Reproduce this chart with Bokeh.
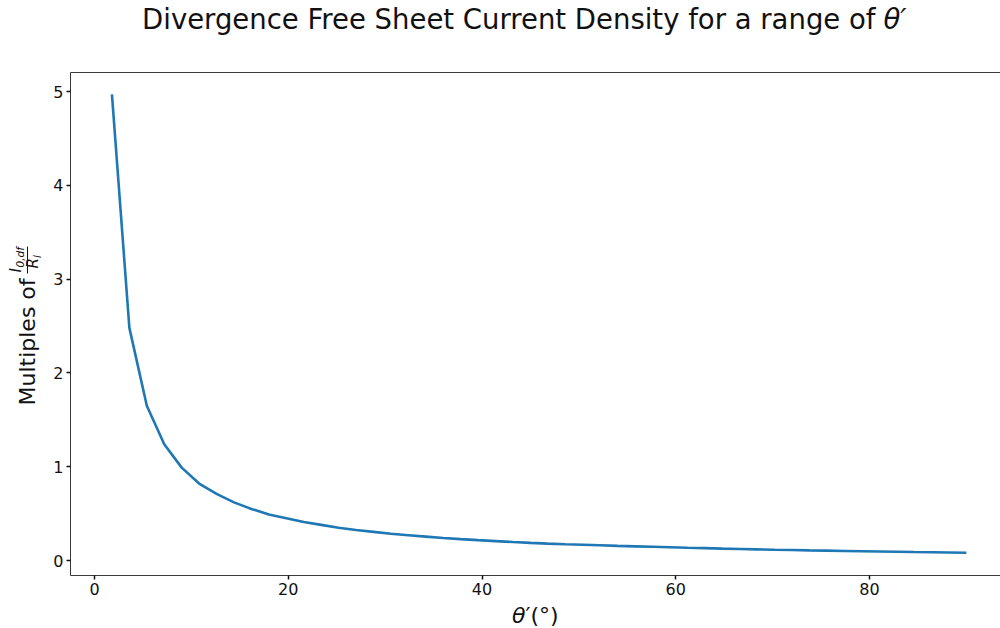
from math import pi
from bokeh.plotting import figure
from bokeh.models import Label, LinearAxis, FixedTicker, Range1d, BoxAnnotation
from bokeh.embed import file_html
from bokeh.resources import INLINE

# ---- data ----
theta_deg = [1.8, 3.6, 5.4, 7.2, 9.0, 10.8, 12.6, 14.4, 16.2, 18.0,
             19.8, 21.6, 23.4, 25.2, 27.0, 28.8, 30.6, 32.4, 34.2, 36.0,
             37.8, 39.6, 41.4, 43.2, 45.0, 46.8, 48.6, 50.4, 52.2, 54.0,
             55.8, 57.6, 59.4, 61.2, 63.0, 64.8, 66.6, 68.4, 70.2, 72.0,
             73.8, 75.6, 77.4, 79.2, 81.0, 82.8, 84.6, 86.4, 88.2, 90.0]
current_multiple = [4.97, 2.48, 1.65, 1.24, 0.99, 0.82, 0.71, 0.62, 0.55, 0.49,
                    0.45, 0.41, 0.38, 0.35, 0.325, 0.305, 0.285, 0.27, 0.255, 0.24,
                    0.228, 0.217, 0.207, 0.197, 0.188, 0.18, 0.173, 0.168, 0.162, 0.156,
                    0.151, 0.146, 0.141, 0.136, 0.132, 0.127, 0.123, 0.119, 0.115, 0.112,
                    0.108, 0.105, 0.102, 0.099, 0.096, 0.093, 0.090, 0.088, 0.085, 0.082]
x_ticks = [0, 20, 40, 60, 80]
y_ticks = [0, 1, 2, 3, 4, 5]

title_main = "Divergence Free Sheet Current Density for a range of"
title_sym = "θ′"
x_label_sym = "θ"
x_label_rest = "′(°)"
y_label_text = "Multiples of"

W, H = 1000, 628
# pixel geometry (canvas coordinates, top-based)
PX_X0, PX_PER_X = 94.0, 9.6875      # pixel of x=0, pixels per degree
PX_Y0, PX_PER_Y = 560.0, 93.8       # pixel of y=0, pixels per unit
SP_LEFT, SP_BOTTOM, SP_TOP = 70.0, 575.0, 72.0


def dx(px):
    return (px - PX_X0) / PX_PER_X


def dy(py):
    return (PX_Y0 - py) / PX_PER_Y


x_lo, x_hi = dx(SP_LEFT), dx(W)
y_lo, y_hi = dy(SP_BOTTOM), dy(SP_TOP)

p = figure(width=W, height=H, output_backend="svg", toolbar_location=None,
           x_range=Range1d(dx(0), dx(W)), y_range=Range1d(dy(H), dy(0)),
           min_border=0, min_border_left=0, min_border_right=0,
           min_border_top=0, min_border_bottom=0,
           x_axis_location=None, y_axis_location=None, title=None)
p.xgrid.visible = False
p.ygrid.visible = False
p.outline_line_color = None
p.background_fill_color = "white"
p.border_fill_color = "white"


def style(ax):
    ax.axis_line_color = "#3a3a3a"
    ax.axis_line_width = 1
    ax.major_tick_line_color = "#111111"
    ax.major_tick_line_width = 1.5
    ax.major_tick_out = 4
    ax.major_tick_in = 0
    ax.minor_tick_line_color = None
    ax.major_label_text_font = "DejaVu Sans"
    ax.major_label_text_font_size = "16px"
    ax.major_label_text_color = "#111111"
    ax.major_label_standoff = 3


xaxis = LinearAxis(fixed_location=y_lo, bounds=(x_lo, x_hi), ticker=FixedTicker(ticks=x_ticks))
yaxis = LinearAxis(fixed_location=x_lo, bounds=(y_lo, y_hi), ticker=FixedTicker(ticks=y_ticks))
style(xaxis)
style(yaxis)
top = LinearAxis(fixed_location=y_hi, bounds=(x_lo, x_hi), ticker=FixedTicker(ticks=[]),
                 axis_line_color="#3a3a3a", major_label_text_font_size="0px",
                 major_tick_line_color=None, minor_tick_line_color=None)
p.add_layout(xaxis, "below")
p.add_layout(yaxis, "left")
p.add_layout(top, "above")

p.line(theta_deg, current_multiple, line_color="#1f77b4", line_width=2.6)

SHIFT = 0.38  # empirical baseline correction, in em


def lab(text, x, y, size, italic=False, align="left", angle=0.0):
    s = SHIFT * size
    if angle:
        x -= s
    else:
        y -= s
    p.add_layout(Label(x=x, y=H - y, x_units="screen", y_units="screen",
                       text=text, text_font="DejaVu Sans", text_font_size=f"{size}px",
                       text_font_style="italic" if italic else "normal",
                       text_color="#111111", text_align=align,
                       text_baseline="alphabetic", angle=angle))


# title
lab(title_main, 875, 29, 27.5, align="right")
lab(title_sym, 883, 29, 27.5, italic=True)
# x axis label
lab(x_label_sym, 525, 623, 22, italic=True, align="right")
lab(x_label_rest, 525, 623, 22)
# y axis label (rotated) with fraction I_{0,df} / R_l
lab(y_label_text, 35, 405, 22, angle=pi / 2)
lab("I", 21, 272, 15, italic=True, angle=pi / 2)
lab("0,df", 23.5, 267, 10.5, italic=True, angle=pi / 2)
lab("R", 38.5, 268, 15, italic=True, angle=pi / 2)
lab("l", 40.5, 257.6, 10.5, italic=True, angle=pi / 2)
p.add_layout(BoxAnnotation(left=26.5, right=27.5, top=H - 246, bottom=H - 273,
                           left_units="screen", right_units="screen",
                           top_units="screen", bottom_units="screen",
                           fill_color="#111111", fill_alpha=1.0, line_color=None))

open("out.html", "w").write(file_html(p, INLINE))
